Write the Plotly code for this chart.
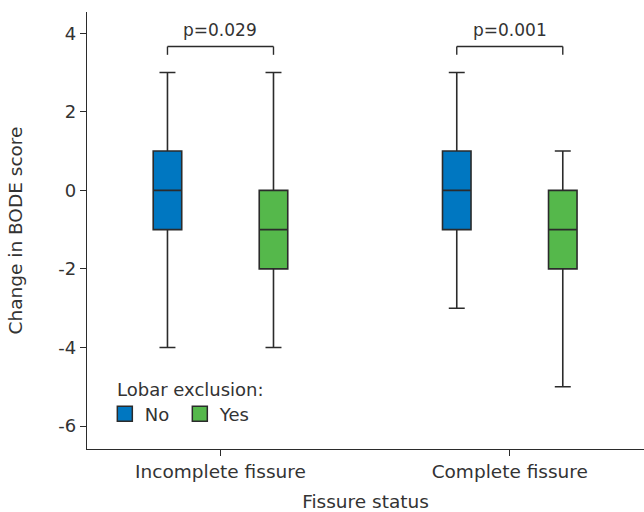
import plotly.graph_objects as go

# ---- data ----
categories = ["Incomplete fissure", "Complete fissure"]
groups = ["No", "Yes"]
colors = {"No": "#0077C1", "Yes": "#55B84B"}
# five-number summaries per group, one value per category
mins    = {"No": [-4, -3], "Yes": [-4, -5]}
q1s     = {"No": [-1, -1], "Yes": [-2, -2]}
medians = {"No": [0, 0],   "Yes": [-1, -1]}
q3s     = {"No": [1, 1],   "Yes": [0, 0]}
maxs    = {"No": [3, 3],   "Yes": [3, 1]}
p_values = ["p=0.029", "p=0.001"]
y_ticks = [-6, -4, -2, 0, 2, 4]
y_ticklabels = [str(v) for v in y_ticks]

FONT = "DejaVu Sans"
TXT = "#333333"
LINE = "#2b2b2b"
BOXGAP = 0.267
BOXGROUPGAP = 0.731

fig = go.Figure()
for g in groups:
    fig.add_trace(go.Box(
        x=categories, q1=q1s[g], median=medians[g], q3=q3s[g],
        lowerfence=mins[g], upperfence=maxs[g],
        name=g, fillcolor=colors[g], line=dict(color=LINE, width=1.6),
        whiskerwidth=0.56, boxpoints=False, showlegend=False,
        hoverinfo="skip",
    ))
    # legend proxy
    fig.add_trace(go.Scatter(
        x=[None], y=[None], mode="markers", name=g,
        marker=dict(symbol="square", size=15, color=colors[g],
                    line=dict(color=LINE, width=1.5)),
        showlegend=True, hoverinfo="skip",
    ))

# significance brackets
off = 0.25 * (1 - BOXGAP)
y_top, y_leg = 3.66, 3.45
for i, p in enumerate(p_values):
    x0, x1 = i - off, i + off
    for (a, b, c, d) in [(x0, y_leg, x0, y_top), (x0, y_top, x1, y_top), (x1, y_top, x1, y_leg)]:
        fig.add_shape(type="line", xref="x", yref="y", x0=a, y0=b, x1=c, y1=d,
                      line=dict(color=LINE, width=1.4))
    fig.add_annotation(x=i, y=4.07, xref="x", yref="y", text=p, showarrow=False,
                       yanchor="middle", font=dict(size=17, color=TXT, family=FONT))

# legend title
fig.add_annotation(x=0.05, y=0.137, xref="paper", yref="paper", text="Lobar exclusion:",
                   showarrow=False, xanchor="left", yanchor="middle",
                   font=dict(size=18, color=TXT, family=FONT))

fig.update_layout(
    width=644, height=512,
    margin=dict(l=87, r=0, t=12, b=63),
    paper_bgcolor="white", plot_bgcolor="white",
    boxmode="group", boxgap=BOXGAP, boxgroupgap=BOXGROUPGAP,
    font=dict(family=FONT, size=18, color=TXT),
    xaxis=dict(type="category", categoryarray=categories, range=[-0.4614, 1.464],
               showline=True, linecolor=LINE, linewidth=1.4,
               ticks="outside", ticklen=6, tickwidth=1.4, tickcolor=LINE,
               showgrid=False, zeroline=False, automargin=False,
               tickfont=dict(size=18.5, color=TXT, family=FONT),
               title=dict(text="Fissure status", font=dict(size=18.5, color=TXT, family=FONT),
                          standoff=15)),
    yaxis=dict(range=[-6.585, 4.54], tickvals=y_ticks, ticktext=y_ticklabels,
               showline=True, linecolor=LINE,
               linewidth=1.4, ticks="outside", ticklen=6, tickwidth=1.4, tickcolor=LINE,
               showgrid=False, zeroline=False, automargin=False,
               title=dict(text="Change in BODE score", font=dict(size=18.5, color=TXT, family=FONT),
                          standoff=30),
               tickfont=dict(size=18, color=TXT, family=FONT)),
    legend=dict(orientation="h", x=0.032, xanchor="left", y=0.08, yanchor="middle",
                entrywidth=30, font=dict(size=18, color=TXT, family=FONT),
                bgcolor="rgba(0,0,0,0)", itemclick=False),
)

fig.write_html("out.html",
               config={"displayModeBar": False},
               post_script="document.body.style.margin='0';document.body.style.overflow='hidden';")
